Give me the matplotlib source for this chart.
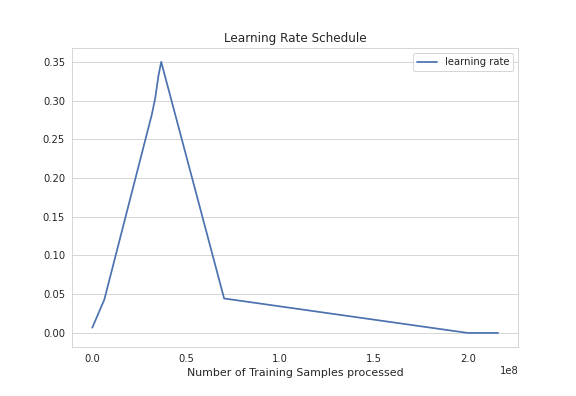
import matplotlib
matplotlib.use("Agg")
import matplotlib.pyplot as plt
import seaborn as sns

sns.set_style("whitegrid")
plt.rcParams['axes.labelsize'] = 11
plt.rcParams['lines.linewidth'] = 1.75

# samples processed vs learning rate
samples = [0.0, 0.064e8, 0.317e8, 0.335e8, 0.353e8, 0.367e8, 0.702e8, 2.0e8, 2.161e8]
lr = [0.0068, 0.043, 0.282, 0.303, 0.333, 0.350, 0.0445, 0.0, 0.0]

fig = plt.figure(figsize=(8, 5.5), dpi=72)
plt.plot(samples, lr, color='#4c72b0', label='learning rate')
plt.title('Learning Rate Schedule')
plt.xlabel('Number of Training Samples processed')
plt.gca().xaxis.grid(False)
plt.legend(loc='upper right')
plt.subplots_adjust(bottom=0.125, top=0.878)
plt.savefig('out.png', dpi=72)
